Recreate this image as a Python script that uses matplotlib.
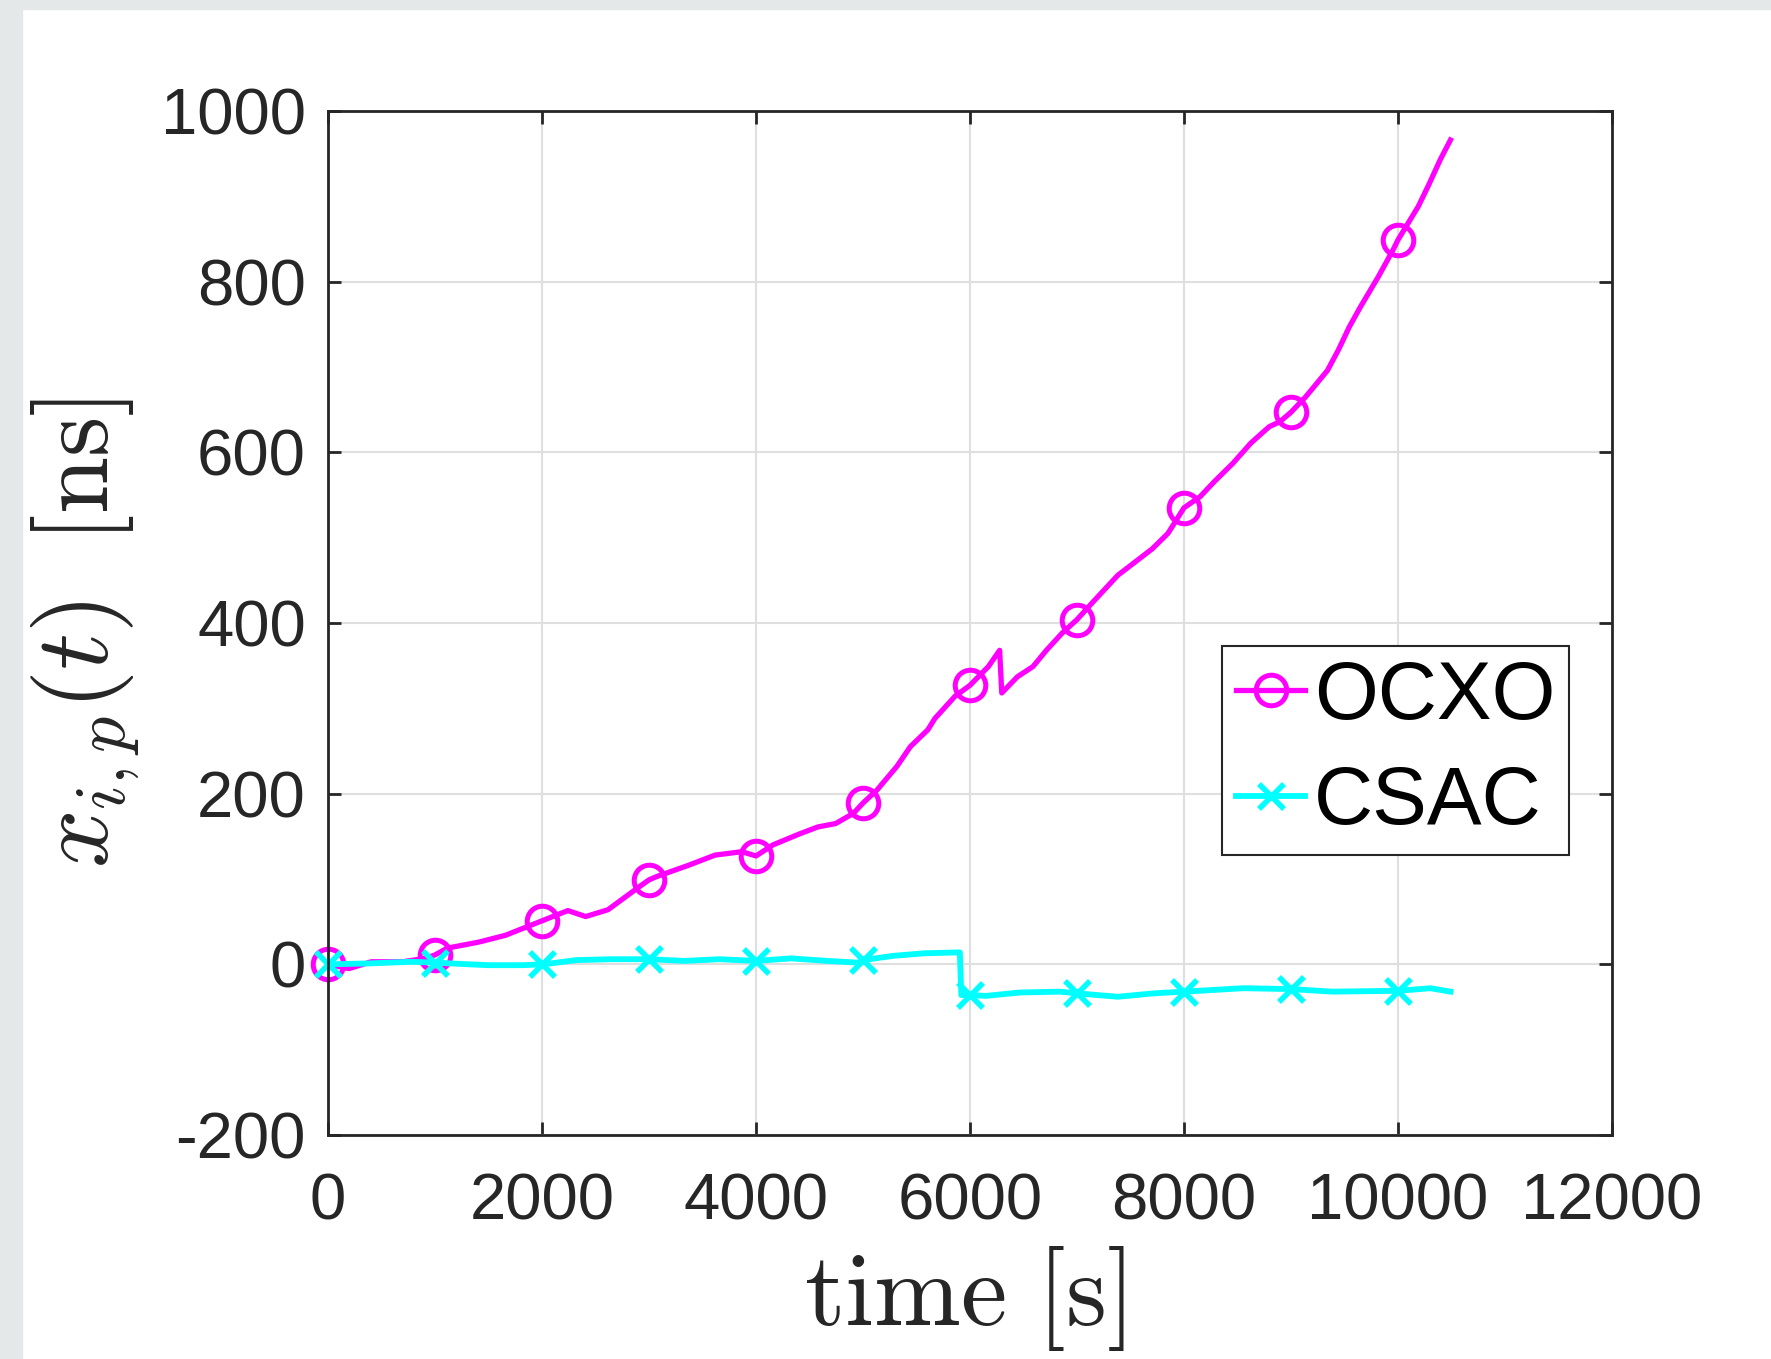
import numpy as np
import matplotlib.pyplot as plt
from matplotlib.patches import Rectangle

plt.rcParams['font.family'] = ['Liberation Sans', 'DejaVu Sans']
plt.rcParams['mathtext.fontset'] = 'cm'
plt.rcParams['axes.unicode_minus'] = False

# OCXO phase offset [ns] vs time [s]
t_ocxo = [0, 196, 405, 698, 907, 1000, 1115, 1407, 1658, 2000, 2242, 2408, 2617,
          2910, 3000, 3075, 3368, 3617, 3867, 4000, 4159, 4410, 4578, 4745, 4911,
          5000, 5129, 5317, 5442, 5607, 5671, 5859, 6000, 6172, 6277, 6297, 6443,
          6589, 6714, 6860, 7000, 7152, 7382, 7611, 7704, 7850, 8000, 8150, 8286,
          8456, 8626, 8796, 8898, 9000, 9137, 9341, 9443, 9545, 9647, 9817, 9953,
          10000, 10189, 10293, 10395, 10490]
x_ocxo = [0, -5, 3, 3, 7, 11, 19, 26, 34, 51, 63, 56, 64,
          91, 99, 103, 116, 128, 132, 127, 140, 153, 161, 165, 177,
          189, 204, 232, 255, 275, 288, 314, 327, 349, 368, 318, 337,
          349, 368, 388, 404, 425, 456, 478, 487, 505, 535, 548, 566,
          587, 611, 630, 636, 647, 665, 696, 720, 747, 770, 806, 837,
          849, 888, 915, 943, 966]

# CSAC phase offset [ns] vs time [s]
t_csac = [0, 364, 781, 1000, 1157, 1491, 1824, 2000, 2075, 2325, 2659, 2993, 3000,
          3327, 3657, 3994, 4000, 4327, 4661, 4953, 5000, 5287, 5579, 5905, 5919,
          6000, 6150, 6464, 6839, 7000, 7382, 7716, 8000, 8550, 9000, 9384, 10000,
          10303, 10490]
x_csac = [0, 1, 3, 2, 1, -1, -1, 0, 1, 5, 6, 6, 6,
          4, 6, 4, 4, 7, 4, 2, 5, 10, 13, 14, -36,
          -36, -37, -33, -32, -34, -38, -34, -32, -28, -29, -32, -31,
          -28, -32]

marker_step = 1000
xticks = [0, 2000, 4000, 6000, 8000, 10000, 12000]
yticks = [-200, 0, 200, 400, 600, 800, 1000]

W, H = 1771, 1359
fig = plt.figure(figsize=(W / 100, H / 100), dpi=100)
fig.patches.append(Rectangle((0, 1 - 9 / H), 1, 9 / H, transform=fig.transFigure,
                             color='#e4e8e9', zorder=0))
fig.patches.append(Rectangle((0, 0), 22 / W, 1, transform=fig.transFigure,
                             color='#e4e8e9', zorder=0))

ax = fig.add_axes([328 / W, (H - 1135) / H, 1284 / W, 1024 / H])

mk_o = [i for i, t in enumerate(t_ocxo) if t % marker_step == 0]
mk_c = [i for i, t in enumerate(t_csac) if t % marker_step == 0]

ax.plot(t_ocxo, x_ocxo, color='#ff00ff', lw=3.8, marker='o', markersize=22,
        markerfacecolor='none', markeredgewidth=3.6, markevery=mk_o, label='OCXO',
        clip_on=False)
ax.plot(t_csac, x_csac, color='#00ffff', lw=4.2, marker='x', markersize=18,
        markeredgewidth=4, markevery=mk_c, label='CSAC', clip_on=False)

ax.set_xlim(0, 12000)
ax.set_ylim(-200, 1000)
ax.set_xticks(xticks)
ax.set_yticks(yticks)
ax.grid(True, color='#dfdfdf', lw=1.5)
ax.set_axisbelow(True)
for s in ax.spines.values():
    s.set_color('#262626')
    s.set_linewidth(2)
ax.tick_params(direction='in', top=True, right=True, length=9.5, width=2,
               color='#262626', labelcolor='#262626', labelsize=47)
ax.tick_params(axis='x', pad=27)
ax.tick_params(axis='y', pad=16)

ax.set_xlabel(r'$\mathrm{time}\ [\mathrm{s}]$', fontsize=75, color='#262626')
ax.xaxis.set_label_coords(0.496, -0.106)
ax.xaxis.label.set_verticalalignment('top')
ax.set_ylabel(r'$x_{i,p}(t)\;\;[\mathrm{ns}]$', fontsize=74, color='#262626')
ax.yaxis.set_label_coords(-0.146, 0.49)

leg = ax.legend(loc='upper right', bbox_to_anchor=(0.9665, 0.4775),
                borderaxespad=0, fontsize=59, handlelength=0.85, handletextpad=0.1,
                borderpad=0.17, labelspacing=0.36, fancybox=False, framealpha=1)
leg.get_frame().set_edgecolor('#262626')
leg.get_frame().set_linewidth(1.5)

fig.savefig('out.png', dpi=100)
